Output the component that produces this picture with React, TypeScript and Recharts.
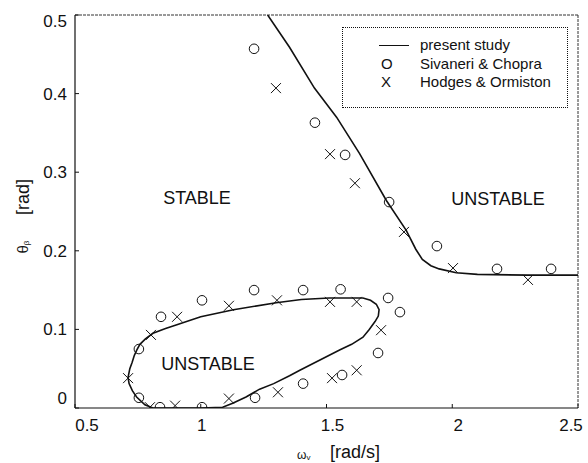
import { ComposedChart, Scatter, XAxis, YAxis, Legend, ReferenceDot } from 'recharts';

const FONT = '"Liberation Sans", Arial, Helvetica, sans-serif';

const xTicks = [0.5, 1, 1.5, 2, 2.5];
const yTicks = [0, 0.1, 0.2, 0.3, 0.4, 0.5];

const seriesNames = ['present study', 'Sivaneri & Chopra', 'Hodges & Ormiston'];

// present study, upper boundary (stable / unstable)
const boundaryUpper: [number, number][] = [
  [1.266, 0.5], [1.353, 0.459], [1.452, 0.407], [1.54, 0.37], [1.631, 0.324],
  [1.738, 0.264], [1.817, 0.226], [1.855, 0.202], [1.881, 0.189], [1.915, 0.181],
  [1.948, 0.177], [2.016, 0.172], [2.1, 0.17], [2.3, 0.169], [2.5, 0.169],
];

// present study, closed instability loop
const boundaryLoop: [number, number][] = [
  [0.711, 0.039], [0.718, 0.05], [0.727, 0.058], [0.736, 0.067], [0.746, 0.074],
  [0.758, 0.081], [0.78, 0.088], [0.81, 0.095], [0.86, 0.101], [0.905, 0.106],
  [1.0, 0.116], [1.13, 0.125], [1.3, 0.134], [1.4, 0.138], [1.51, 0.14],
  [1.6, 0.14], [1.645, 0.14], [1.675, 0.137], [1.698, 0.132], [1.709, 0.125],
  [1.706, 0.117], [1.693, 0.11], [1.67, 0.1], [1.645, 0.09], [1.6, 0.081],
  [1.554, 0.074], [1.474, 0.061], [1.394, 0.048], [1.353, 0.041], [1.29, 0.031],
  [1.234, 0.024], [1.18, 0.014], [1.127, 0.006], [1.087, 0.001], [1.0, 0],
  [0.9, 0], [0.81, 0], [0.778, 0.004], [0.745, 0.014], [0.728, 0.022],
  [0.715, 0.031], [0.711, 0.039],
];

const sivaneriChopra: [number, number][] = [
  [1.212, 0.457], [1.454, 0.363], [1.574, 0.322], [1.749, 0.262], [1.939, 0.206],
  [2.178, 0.177], [2.393, 0.177],
  [0.842, 0.116], [1.005, 0.137], [1.212, 0.15], [1.407, 0.15], [1.556, 0.151],
  [1.745, 0.14], [1.792, 0.122], [1.705, 0.07], [1.562, 0.042], [1.407, 0.031],
  [1.216, 0.013], [1.005, 0.001], [0.838, 0.001], [0.754, 0.013], [0.754, 0.075],
];

const hodgesOrmiston: [number, number][] = [
  [1.299, 0.407], [1.514, 0.323], [1.613, 0.286], [1.808, 0.224], [2.003, 0.178],
  [2.301, 0.163],
  [0.711, 0.038], [0.802, 0.093], [0.906, 0.116], [1.112, 0.13], [1.303, 0.137],
  [1.514, 0.135], [1.62, 0.135], [1.717, 0.099], [1.62, 0.048], [1.522, 0.038],
  [1.307, 0.02], [1.112, 0.012], [0.898, 0.003], [0.798, 0.001],
];

const regionLabels = [
  { x: 0.985, y: 0.268, text: 'STABLE' },
  { x: 2.182, y: 0.267, text: 'UNSTABLE' },
  { x: 1.029, y: 0.057, text: 'UNSTABLE' },
];

const pts = (a: [number, number][]) => a.map(([x, y]) => ({ x, y }));

// small nudges of the tick labels as they sit in the scanned figure
const xLabelShift: Record<string, number> = { '0.5': 12, '1': 1, '1.5': 6, '2': 6, '2.5': -7 };
const yLabelShift: Record<string, number> = { '0': -10, '0.5': 6 };

const Circle = (p: any) => (
  <circle cx={p.cx} cy={p.cy} r={4.8} fill="none" stroke="#111" strokeWidth={1} />
);

const Cross = (p: any) => (
  <path
    d={`M${p.cx - 5},${p.cy - 5}L${p.cx + 5},${p.cy + 5}M${p.cx + 5},${p.cy - 5}L${p.cx - 5},${p.cy + 5}`}
    stroke="#111"
    strokeWidth={1}
    fill="none"
  />
);

const NoDot = () => <g />;

const XTick = (p: any) => (
  <text
    x={p.x + (xLabelShift[String(p.payload.value)] || 0)}
    y={p.y}
    dy="0.72em"
    textAnchor="middle"
    fontSize={17}
    fontFamily={FONT}
    fill="#111"
  >
    {p.payload.value}
  </text>
);

const YTick = (p: any) => (
  <text
    x={p.x}
    y={p.y + (yLabelShift[String(p.payload.value)] || 0)}
    dy="0.35em"
    textAnchor="end"
    fontSize={17}
    fontFamily={FONT}
    fill="#111"
  >
    {p.payload.value}
  </text>
);

const XTitle = (p: any) => {
  const vb = p.viewBox;
  const x0 = vb.x + 222;
  const y0 = vb.y + 51;
  return (
    <g fontFamily={FONT} fill="#111">
      <text x={x0} y={y0} fontSize={12}>
        ω<tspan fontSize={8} dy={1}>v</tspan>
      </text>
      <text x={x0 + 33} y={y0 - 1} fontSize={18}>[rad/s]</text>
    </g>
  );
};

const YTitle = (p: any) => {
  const vb = p.viewBox;
  const cx = vb.x + 22;
  return (
    <g fontFamily={FONT} fill="#111">
      <text
        x={cx}
        y={247}
        transform={`rotate(-90 ${cx} 247)`}
        textAnchor="middle"
        dominantBaseline="central"
        fontSize={15}
      >
        θ<tspan fontSize={8} dy={4}>β</tspan>
      </text>
      <text
        x={cx + 1}
        y={197}
        transform={`rotate(-90 ${cx + 1} 197)`}
        textAnchor="middle"
        dominantBaseline="central"
        fontSize={18}
      >
        [rad]
      </text>
    </g>
  );
};

const LegendBox = () => (
  <div
    style={{
      position: 'relative',
      width: 226,
      height: 81,
      border: '1px dotted #111',
      fontFamily: FONT,
      fontSize: 15,
      color: '#111',
      boxSizing: 'border-box',
    }}
  >
    <div style={{ position: 'absolute', left: 36, top: 17, width: 30, borderTop: '1.5px solid #111' }} />
    {seriesNames.map((name, i) => (
      <div key={name} style={{ position: 'absolute', left: 0, top: 8 + i * 18.5, width: '100%', height: 18, lineHeight: '18px' }}>
        {i > 0 && (
          <span style={{ position: 'absolute', left: 38, width: 10, textAlign: 'center' }}>
            {i === 1 ? 'O' : 'X'}
          </span>
        )}
        <span style={{ position: 'absolute', left: 77 }}>{name}</span>
      </div>
    ))}
  </div>
);

export default function App() {
  return (
    <div style={{ position: 'absolute', left: 0, top: 0, background: '#fff' }}>
      <ComposedChart width={588} height={463} margin={{ top: 0, right: 0, bottom: 0, left: 0 }}>
        <XAxis
          xAxisId="b"
          type="number"
          dataKey="x"
          orientation="bottom"
          domain={[0.5, 2.5]}
          ticks={xTicks}
          allowDataOverflow
          height={55}
          tickSize={-4}
          tickMargin={15}
          tick={XTick}
          axisLine={{ stroke: '#111', strokeWidth: 1.2 }}
          tickLine={{ stroke: '#111' }}
          label={{ content: XTitle }}
        />
        <XAxis
          xAxisId="t"
          type="number"
          dataKey="x"
          orientation="top"
          domain={[0.5, 2.5]}
          ticks={xTicks}
          allowDataOverflow
          height={15}
          tickSize={-4}
          tick={false}
          axisLine={{ stroke: '#333', strokeDasharray: '3 1' }}
          tickLine={{ stroke: '#333' }}
        />
        <YAxis
          yAxisId="l"
          type="number"
          dataKey="y"
          orientation="left"
          domain={[0, 0.5]}
          ticks={yTicks}
          allowDataOverflow
          width={75}
          tickSize={-4}
          tickMargin={12}
          tick={YTick}
          axisLine={{ stroke: '#111', strokeWidth: 1.2 }}
          tickLine={{ stroke: '#111' }}
          label={{ content: YTitle }}
        />
        <YAxis
          yAxisId="r"
          type="number"
          dataKey="y"
          orientation="right"
          domain={[0, 0.5]}
          ticks={yTicks}
          allowDataOverflow
          width={10}
          tickSize={-4}
          tick={false}
          axisLine={{ stroke: '#333', strokeDasharray: '3 1' }}
          tickLine={{ stroke: '#333' }}
        />
        <Scatter
          name={seriesNames[0]}
          xAxisId="b"
          yAxisId="l"
          data={pts(boundaryUpper)}
          line={{ stroke: '#111', strokeWidth: 1.6 }}
          lineType="joint"
          shape={NoDot}
          isAnimationActive={false}
        />
        <Scatter
          name={seriesNames[0] + ' loop'}
          xAxisId="b"
          yAxisId="l"
          data={pts(boundaryLoop)}
          line={{ stroke: '#111', strokeWidth: 1.6 }}
          lineType="joint"
          shape={NoDot}
          isAnimationActive={false}
        />
        <Scatter
          name={seriesNames[1]}
          xAxisId="b"
          yAxisId="l"
          data={pts(sivaneriChopra)}
          shape={Circle}
          isAnimationActive={false}
        />
        <Scatter
          name={seriesNames[2]}
          xAxisId="b"
          yAxisId="l"
          data={pts(hodgesOrmiston)}
          shape={Cross}
          isAnimationActive={false}
        />
        {regionLabels.map((r, i) => (
          <ReferenceDot
            key={i}
            xAxisId="b"
            yAxisId="l"
            x={r.x}
            y={r.y}
            r={0}
            fill="none"
            stroke="none"
            label={{ value: r.text, position: 'center', fontSize: 18, fontFamily: FONT, fill: '#111' }}
          />
        ))}
        <Legend
          layout="horizontal"
          verticalAlign="middle"
          align="center"
          content={LegendBox}
          wrapperStyle={{ left: 342, top: 27, width: 228, height: 83 }}
        />
      </ComposedChart>
    </div>
  );
}
